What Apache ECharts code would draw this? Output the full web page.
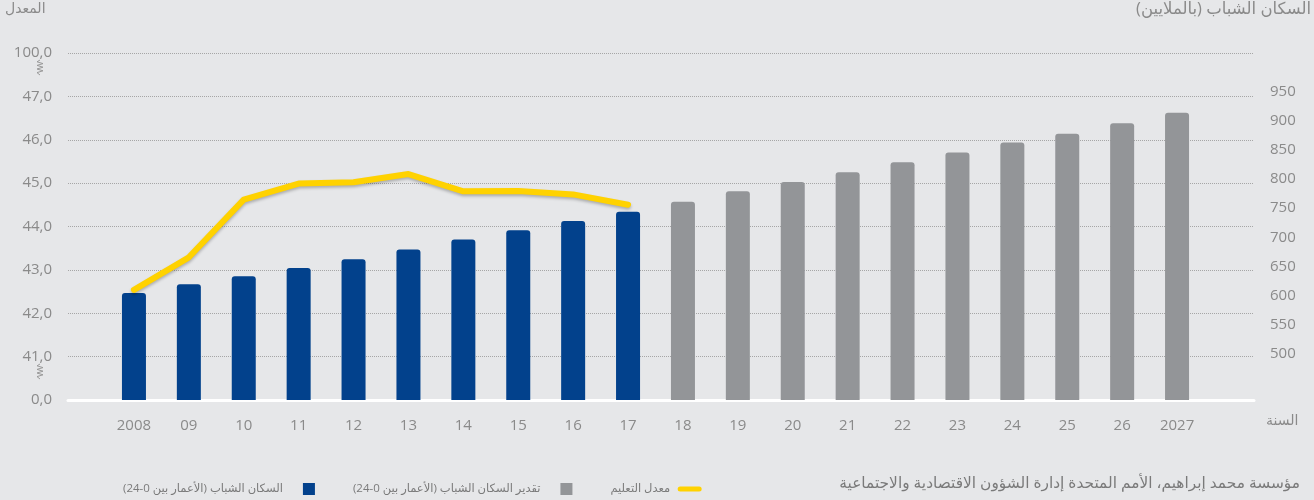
<!DOCTYPE html>
<html>
<head>
<meta charset="utf-8">
<script src="https://cdn.jsdelivr.net/npm/echarts@6/dist/echarts.min.js"></script>
<style>
  html, body { margin: 0; padding: 0; background: #e6e7e9; }
  #container { width: 1314px; height: 500px; }
</style>
</head>
<body>
<div id="container"></div>
<script>
// years on the x axis
var years = ['2008', '09', '10', '11', '12', '13', '14', '15', '16', '17',
             '18', '19', '20', '21', '22', '23', '24', '25', '26', '2027'];
// youth population (millions), 2008-2017
var youthActual = [604, 619, 633, 647, 662, 679, 696, 712, 728, 744];
// youth population estimate (millions), 2018-2027
var youthEstimate = [761, 779, 795, 812, 829, 846, 863, 878, 896, 914];
// education rate, 2008-2017
var eduRate = [42.54, 43.29, 44.62, 44.99, 45.02, 45.21, 44.81, 44.82, 44.74, 44.5];
// left axis: 40 stands for the broken "0,0", 48 for "100,0"
var leftTicks = [40, 41, 42, 43, 44, 45, 46, 47, 48];
var leftLabels = ['0,0', '41,0', '42,0', '43,0', '44,0', '45,0', '46,0', '47,0', '100,0'];
var rightTicks = [500, 550, 600, 650, 700, 750, 800, 850, 900, 950];

var names = ['السكان الشباب (الأعمار بين 0-24)', 'تقدير السكان الشباب (الأعمار بين 0-24)', 'معدل التعليم'];

var font = "'Open Sans', 'DejaVu Sans', sans-serif";
var grey = '#8a8a8a';

// legend icons: 25x12 box, a tiny dot at the corner keeps the box size
var squareIcon = 'path://M0,0H0.1V0.1H0Z M13,0H25V12H13Z';
var lineIcon = 'path://M0,0H0.1V0.1H0Z M24.9,11.9H25V12H24.9Z M3,3.5H22A2.5,2.5 0 0 1 22,8.5H3A2.5,2.5 0 0 1 3,3.5Z';

var actualData = [], estData = [];
for (var i = 0; i < years.length; i++) {
    actualData.push(i < youthActual.length ? youthActual[i] : null);
    estData.push(i >= youthActual.length ? youthEstimate[i - youthActual.length] : null);
}

function zigzag(x, y) {
    var pts = [[x, y]];
    for (var k = 1; k <= 7; k++) {
        pts.push([x + (k % 2 ? -3 : 3), y + k * 1.8]);
    }
    pts.push([x, y + 15]);
    return {
        type: 'polyline', shape: { points: pts },
        style: { stroke: '#9a9a9a', lineWidth: 1, fill: null }
    };
}

var myChart = echarts.init(document.getElementById('container'));

var option = {
    backgroundColor: '#e6e7e9',
    textStyle: { fontFamily: font },
    animation: false,
    grid: [
        { left: 106.5, right: 109.5, top: 53, bottom: 100 },
        { left: 68, right: 60, top: 53, bottom: 100 }
    ],
    legend: {
        data: [
            { name: names[0], icon: squareIcon },
            { name: names[1], icon: squareIcon },
            { name: names[2], icon: lineIcon }
        ],
        left: 118,
        top: 478,
        align: 'right',
        itemGap: 38,
        itemWidth: 25,
        itemHeight: 12,
        textStyle: { color: '#7a7a7a', fontSize: 11.5, fontFamily: font, padding: [0, 2, 0, 0] }
    },
    xAxis: [
        {
            type: 'category', gridIndex: 0, data: years,
            axisLine: { show: false }, axisTick: { show: false },
            axisLabel: { color: grey, fontSize: 15, margin: 18, interval: 0 }
        },
        {
            type: 'value', gridIndex: 1, min: 0, max: 1,
            axisLine: { show: true, lineStyle: { color: '#ffffff', width: 3 } },
            axisTick: { show: false }, axisLabel: { show: false },
            splitLine: { show: false }
        }
    ],
    yAxis: [
        { type: 'value', gridIndex: 0, min: 40, max: 48, show: false },
        { type: 'value', gridIndex: 0, min: 420, max: 1017, position: 'right', show: false },
        {
            type: 'value', gridIndex: 1, min: 40, max: 48, interval: 1,
            axisLine: { show: false }, axisTick: { show: false },
            axisLabel: {
                color: grey, fontSize: 15, margin: 16,
                formatter: function (v) { return leftLabels[leftTicks.indexOf(v)]; }
            },
            splitLine: { lineStyle: { color: '#a6a6a6', type: 'dotted', width: 1 } }
        },
        {
            type: 'value', gridIndex: 1, min: 420, max: 1017, position: 'right',
            axisLine: { show: false }, axisTick: { show: false },
            axisLabel: { color: grey, fontSize: 15, margin: 16, customValues: rightTicks },
            splitLine: { show: false }
        }
    ],
    series: [
        {
            name: names[0], type: 'bar', xAxisIndex: 0, yAxisIndex: 1,
            data: actualData, barWidth: 24, barGap: '-100%',
            itemStyle: { color: '#02418c', borderRadius: [3, 3, 0, 0] }
        },
        {
            name: names[1], type: 'bar', xAxisIndex: 0, yAxisIndex: 1,
            data: estData, barWidth: 24, barGap: '-100%',
            itemStyle: { color: '#939598', borderRadius: [3, 3, 0, 0] }
        },
        {
            name: names[2], type: 'line', xAxisIndex: 0, yAxisIndex: 0,
            data: eduRate, symbol: 'none', z: 5,
            lineStyle: {
                color: '#ffd200', width: 6, cap: 'round', join: 'round',
                shadowColor: 'rgba(0,0,0,0.25)', shadowBlur: 3, shadowOffsetY: 2
            },
            itemStyle: { color: '#ffd200' }
        }
    ],
    graphic: [
        { type: 'text', left: 5, top: 2, style: { text: 'المعدل', fill: grey, fontSize: 14, fontFamily: font } },
        { type: 'text', right: 3, top: 1, style: { text: 'السكان الشباب (بالملايين)', fill: grey, fontSize: 16.5, fontFamily: font } },
        { type: 'text', left: 1266, top: 414, style: { text: 'السنة', fill: grey, fontSize: 14, fontFamily: font } },
        { type: 'text', right: 14, top: 476, style: { text: 'مؤسسة محمد إبراهيم، الأمم المتحدة إدارة الشؤون الاقتصادية والاجتماعية', fill: '#7a7a7a', fontSize: 15.4, fontFamily: font } },
        zigzag(40, 60),
        zigzag(40, 364)
    ]
};

myChart.setOption(option);
</script>
</body>
</html>
